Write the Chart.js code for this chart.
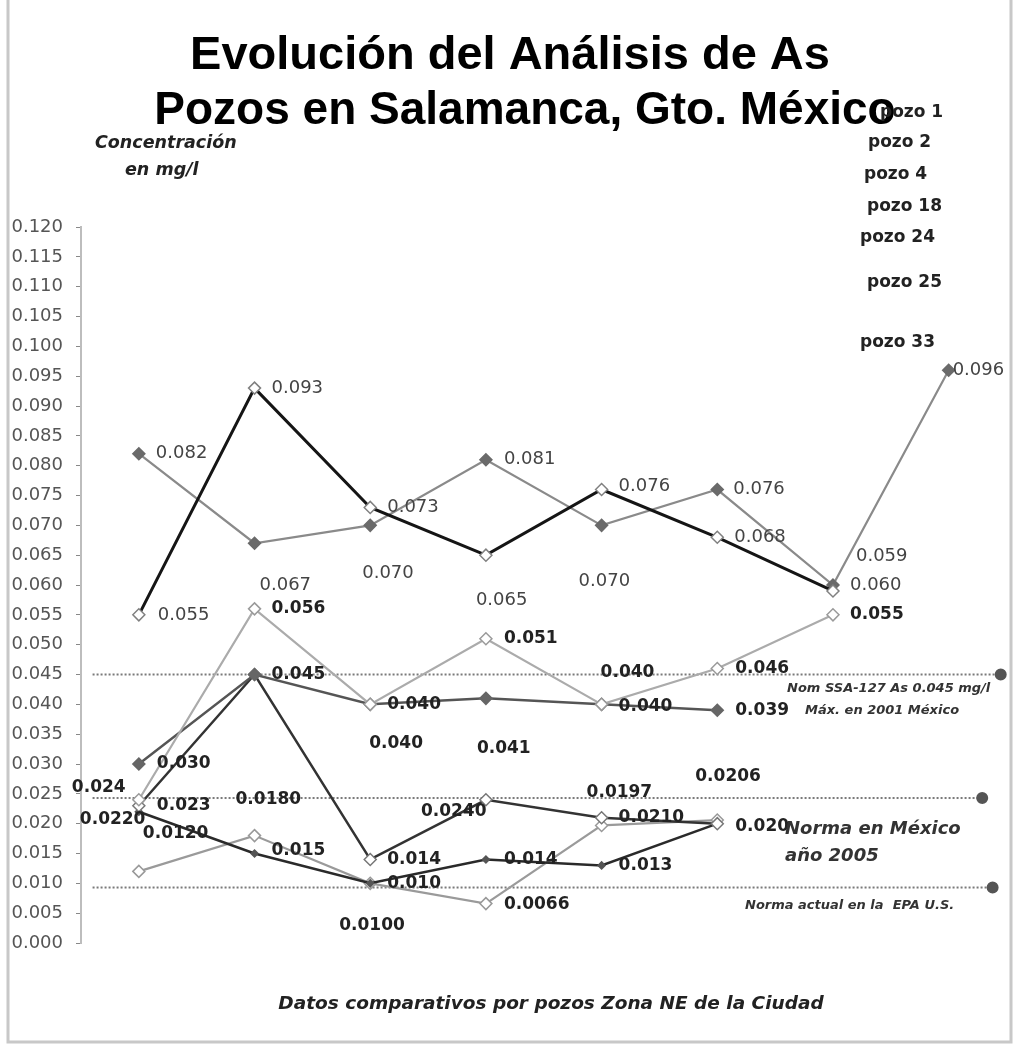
<!DOCTYPE html>
<html>
<head>
<meta charset="utf-8">
<script src="https://cdn.jsdelivr.net/npm/chart.js@4"></script>
<style>
html,body{margin:0;padding:0;background:#fff;}
#wrap{position:relative;width:1014px;height:1045px;}
</style>
</head>
<body>
<div id="wrap"><canvas id="c" width="1014" height="1045"></canvas></div>
<script>
// ---- data ----
const categories = ['1', '2', '3', '4', '5', '6', '7', '8'];
const seriesNames = ['pozo 1', 'pozo 2', 'pozo 4', 'pozo 18', 'pozo 24', 'pozo 25', 'pozo 33'];
const pozo1 = [0.055, 0.093, 0.073, 0.065, 0.076, 0.068, 0.059, null];
const pozo2 = [0.082, 0.067, 0.070, 0.081, 0.070, 0.076, 0.060, 0.096];
const pozo4 = [0.024, 0.056, 0.040, 0.051, 0.040, 0.046, 0.055, null];
const pozo18 = [0.030, 0.045, 0.040, 0.041, 0.040, 0.039, null, null];
const pozo24 = [0.023, 0.045, 0.014, 0.024, 0.021, 0.020, null, null];
const pozo25 = [0.022, 0.015, 0.010, 0.014, 0.013, 0.020, null, null];
const pozo33 = [0.012, 0.018, 0.010, 0.0066, 0.0197, 0.0206, null, null];

const labels1 = ['0.055', '0.093', '0.073', '0.065', '0.076', '0.068', '0.059', null];
const labels2 = ['0.082', '0.067', '0.070', '0.081', '0.070', '0.076', '0.060', '0.096'];
const labels4 = ['0.024', '0.056', '0.040', '0.051', '0.040', '0.046', '0.055', null];
const labels18 = ['0.030', '0.045', '0.040', '0.041', '0.040', '0.039', null, null];
const labels24 = ['0.023', null, '0.014', '0.0240', '0.0210', '0.020', null, null];
const labels25 = ['0.0220', '0.015', '0.010', '0.014', '0.013', null, null, null];
const labels33 = ['0.0120', '0.0180', '0.0100', '0.0066', '0.0197', '0.0206', null, null];

// reference limits (mg/l)
const normLevels = [0.045, 0.0243, 0.0093];

const yTicks = { min: 0, max: 0.12, step: 0.005 };

// ---- layout / style (kept apart from data) ----
const normSpan = [[-0.4, 7.45], [-0.4, 7.29], [-0.4, 7.38]];
const labelOffsets = [
  [[19,0],[17,0],[17,0],[-10,45],[17,-3],[17,0],[23,-35],null],
  [[17,0],[5,42],[-8,48],[18,0],[-23,56],[16,0],[17,0],[4,0]],
  [[-67,-12],[17,0],[17,0],[18,0],[-1,-32],[18,0],[17,0],null],
  [[18,0],[17,0],[-1,39],[-9,50],[17,2],[18,0],null,null],
  [[18,0],null,[17,0],[-65,12],[17,0],[18,3],null,null],
  [[-59,8],[17,-3],[17,0],[18,0],[17,0],null,null,null],
  [[4,-38],[-19,-36],[-31,42],[18,1],[-15,-33],[-22,-44],null,null]
];
const seriesStyle = [
  { line:'#151515', w:3,   fill:'#ffffff', edge:'#808080', r:6, boldLabel:false },
  { line:'#8a8a8a', w:2.2, fill:'#6a6a6a', edge:'#6a6a6a', r:6, boldLabel:false },
  { line:'#ababab', w:2.2, fill:'#ffffff', edge:'#9a9a9a', r:6, boldLabel:true },
  { line:'#555555', w:2.5, fill:'#666666', edge:'#666666', r:6, boldLabel:true },
  { line:'#333333', w:2.5, fill:'#ffffff', edge:'#777777', r:6, boldLabel:true },
  { line:'#2a2a2a', w:2.5, fill:'#555555', edge:'#555555', r:3.5, boldLabel:true },
  { line:'#9a9a9a', w:2.2, fill:'#ffffff', edge:'#999999', r:6, boldLabel:true }
];
const legendPos = [[880,113],[868,143],[864,175],[867,207],[860,238],[867,283],[860,343]];

const allSeries = [pozo1, pozo2, pozo4, pozo18, pozo24, pozo25, pozo33];
const allLabels = [labels1, labels2, labels4, labels18, labels24, labels25, labels33];

function toPoints(arr) {
  const pts = [];
  arr.forEach((v, i) => { if (v !== null) pts.push({ x: categories.indexOf(categories[i]), y: v }); });
  return pts;
}

const datasets = [];
allSeries.forEach((s, k) => {
  const st = seriesStyle[k];
  datasets.push({
    label: seriesNames[k],
    data: toPoints(s),
    borderColor: st.line,
    borderWidth: st.w,
    pointStyle: 'rectRot',
    pointRadius: st.r,
    pointBackgroundColor: st.fill,
    pointBorderColor: st.edge,
    pointBorderWidth: 1.5,
    tension: 0,
    clip: false,
    _k: k
  });
});
normLevels.forEach((lv, j) => {
  datasets.push({
    label: 'norma ' + (j + 1),
    data: [{ x: normSpan[j][0], y: lv }, { x: normSpan[j][1], y: lv }],
    borderColor: '#7a7a7a',
    borderWidth: 2,
    borderDash: [2, 2],
    pointStyle: 'circle',
    pointRadius: [0, 5],
    pointBackgroundColor: '#555',
    pointBorderColor: '#555',
    clip: false,
    _norm: true
  });
});

const textPlugin = {
  id: 'texts',
  afterDatasetsDraw(chart) {
    const ctx = chart.ctx;
    ctx.save();
    ctx.textBaseline = 'middle';
    ctx.textAlign = 'left';
    chart.data.datasets.forEach((ds, di) => {
      if (ds._norm) return;
      const k = ds._k;
      const meta = chart.getDatasetMeta(di);
      const st = seriesStyle[k];
      ctx.font = st.boldLabel ? 'bold 17px "DejaVu Sans"' : '18px "DejaVu Sans"';
      ctx.fillStyle = st.boldLabel ? '#222' : '#444';
      let p = 0;
      allSeries[k].forEach((v, i) => {
        if (v === null) return;
        const el = meta.data[p++];
        const txt = allLabels[k][i];
        const off = labelOffsets[k][i];
        if (!txt || !off) return;
        ctx.fillText(txt, el.x + off[0], el.y + off[1]);
      });
    });
    ctx.restore();
  },
  afterDraw(chart) {
    const ctx = chart.ctx;
    ctx.save();
    // frame
    ctx.strokeStyle = '#c8c8c8';
    ctx.lineWidth = 3;
    ctx.beginPath();
    ctx.moveTo(8, 0); ctx.lineTo(8, 1042); ctx.lineTo(1011, 1042); ctx.lineTo(1011, 0);
    ctx.stroke();
    ctx.fillStyle = '#000';
    ctx.textBaseline = 'middle';
    ctx.textAlign = 'center';
    ctx.font = 'bold 47px "Liberation Sans"';
    ctx.fillText('Evolución del Análisis de As', 510, 56);
    ctx.font = 'bold 46px "Liberation Sans"';
    ctx.fillText('Pozos en Salamanca, Gto. México', 525, 111);
    ctx.textAlign = 'left';
    ctx.fillStyle = '#222';
    ctx.font = 'bold italic 17.5px "DejaVu Sans"';
    ctx.fillText('Concentración', 95, 143);
    ctx.fillText('en mg/l', 125, 170);
    ctx.font = 'bold italic 18.5px "DejaVu Sans"';
    ctx.textAlign = 'center';
    ctx.fillText('Datos comparativos por pozos Zona NE de la Ciudad', 551, 1004);
    ctx.textAlign = 'left';
    // legend
    ctx.font = 'bold 17px "DejaVu Sans"';
    ctx.fillStyle = '#222';
    seriesNames.forEach((n, i) => ctx.fillText(n, legendPos[i][0], legendPos[i][1]));
    // norm notes
    ctx.fillStyle = '#333';
    ctx.font = 'bold italic 13px "DejaVu Sans"';
    ctx.fillText('Nom SSA-127 As 0.045 mg/l', 787, 689);
    ctx.fillText('Máx. en 2001 México', 805, 711);
    ctx.fillText('Norma actual en la  EPA U.S.', 745, 906);
    ctx.font = 'bold italic 18px "DejaVu Sans"';
    ctx.fillText('Norma en México', 785, 829);
    ctx.fillText('año 2005', 785, 856);
    ctx.restore();
  }
};

new Chart(document.getElementById('c'), {
  type: 'line',
  data: { labels: categories, datasets },
  options: {
    responsive: false,
    animation: false,
    layout: { padding: { left: 0, right: 5, top: 227, bottom: 102 } },
    plugins: { legend: { display: false }, tooltip: { enabled: false }, title: { display: false } },
    scales: {
      x: { type: 'linear', min: -0.5, max: categories.length - 0.5, display: false },
      y: {
        min: yTicks.min, max: yTicks.max,
        afterFit(s) { s.width = 81; },
        ticks: {
          stepSize: yTicks.step,
          padding: 13,
          color: '#555',
          font: { family: 'DejaVu Sans', size: 18 },
          callback: v => Number(v).toFixed(3)
        },
        grid: { drawOnChartArea: false, drawTicks: true, tickLength: 5, color: '#888' },
        border: { display: true, color: '#bdbdbd', width: 2 }
      }
    }
  },
  plugins: [textPlugin]
});
</script>
</body>
</html>
